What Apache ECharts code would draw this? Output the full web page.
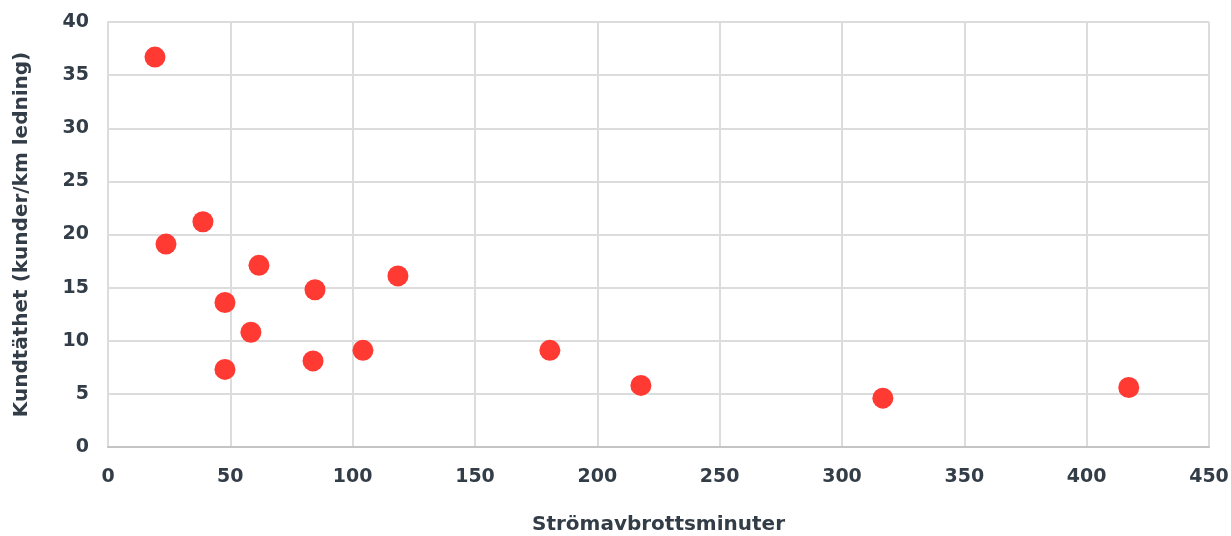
<!DOCTYPE html>
<html><head><meta charset="utf-8">
<script src="https://cdn.jsdelivr.net/npm/echarts@6/dist/echarts.min.js"></script>
<style>html,body{margin:0;padding:0;background:#fff}#c{width:1231px;height:536px}</style>
</head><body><div id="c"></div>
<script>
const minutes = [19.2, 23.7, 38.8, 47.8, 47.8, 58.4, 61.7, 83.8, 84.6, 104.2, 118.5, 180.6, 217.8, 316.7, 417.2];
const density = [36.7, 19.1, 21.2, 13.6, 7.3, 10.8, 17.1, 8.1, 14.8, 9.1, 16.1, 9.1, 5.8, 4.6, 5.6];
const xTitle = 'Strömavbrottsminuter';
const yTitle = 'Kundtäthet (kunder/km ledning)';
const data = minutes.map((m, i) => [m, density[i]]);
const font = {color: '#333d47', fontSize: 19, fontWeight: 'bold', fontFamily: 'DejaVu Sans'};
const chart = echarts.init(document.getElementById('c'));
chart.setOption({
  animation: false,
  grid: {left: 108, right: 22, top: 22, bottom: 89, outerBoundsMode: 'none', containLabel: false},
  xAxis: {
    type: 'value', min: 0, max: 450, interval: 50,
    name: xTitle, nameLocation: 'middle', nameGap: 68,
    nameTextStyle: Object.assign({}, font, {fontSize: 20}),
    axisLine: {show: true, lineStyle: {color: '#c4c4c4', width: 2}},
    axisTick: {show: false},
    axisLabel: Object.assign({margin: 21}, font),
    splitLine: {show: true, lineStyle: {color: '#dcdcdc', width: 2}}
  },
  yAxis: {
    type: 'value', min: 0, max: 40, interval: 5,
    name: yTitle, nameLocation: 'middle', nameGap: 76, nameRotate: 90,
    nameTextStyle: Object.assign({}, font, {fontSize: 20}),
    axisLine: {show: true, lineStyle: {color: '#dcdcdc', width: 2}},
    axisTick: {show: false},
    axisLabel: Object.assign({margin: 19}, font),
    splitLine: {show: true, lineStyle: {color: '#dcdcdc', width: 2}}
  },
  series: [{
    type: 'scatter', data: data, symbolSize: 21,
    itemStyle: {color: '#ff3a33', opacity: 1}
  }]
});
</script></body></html>
